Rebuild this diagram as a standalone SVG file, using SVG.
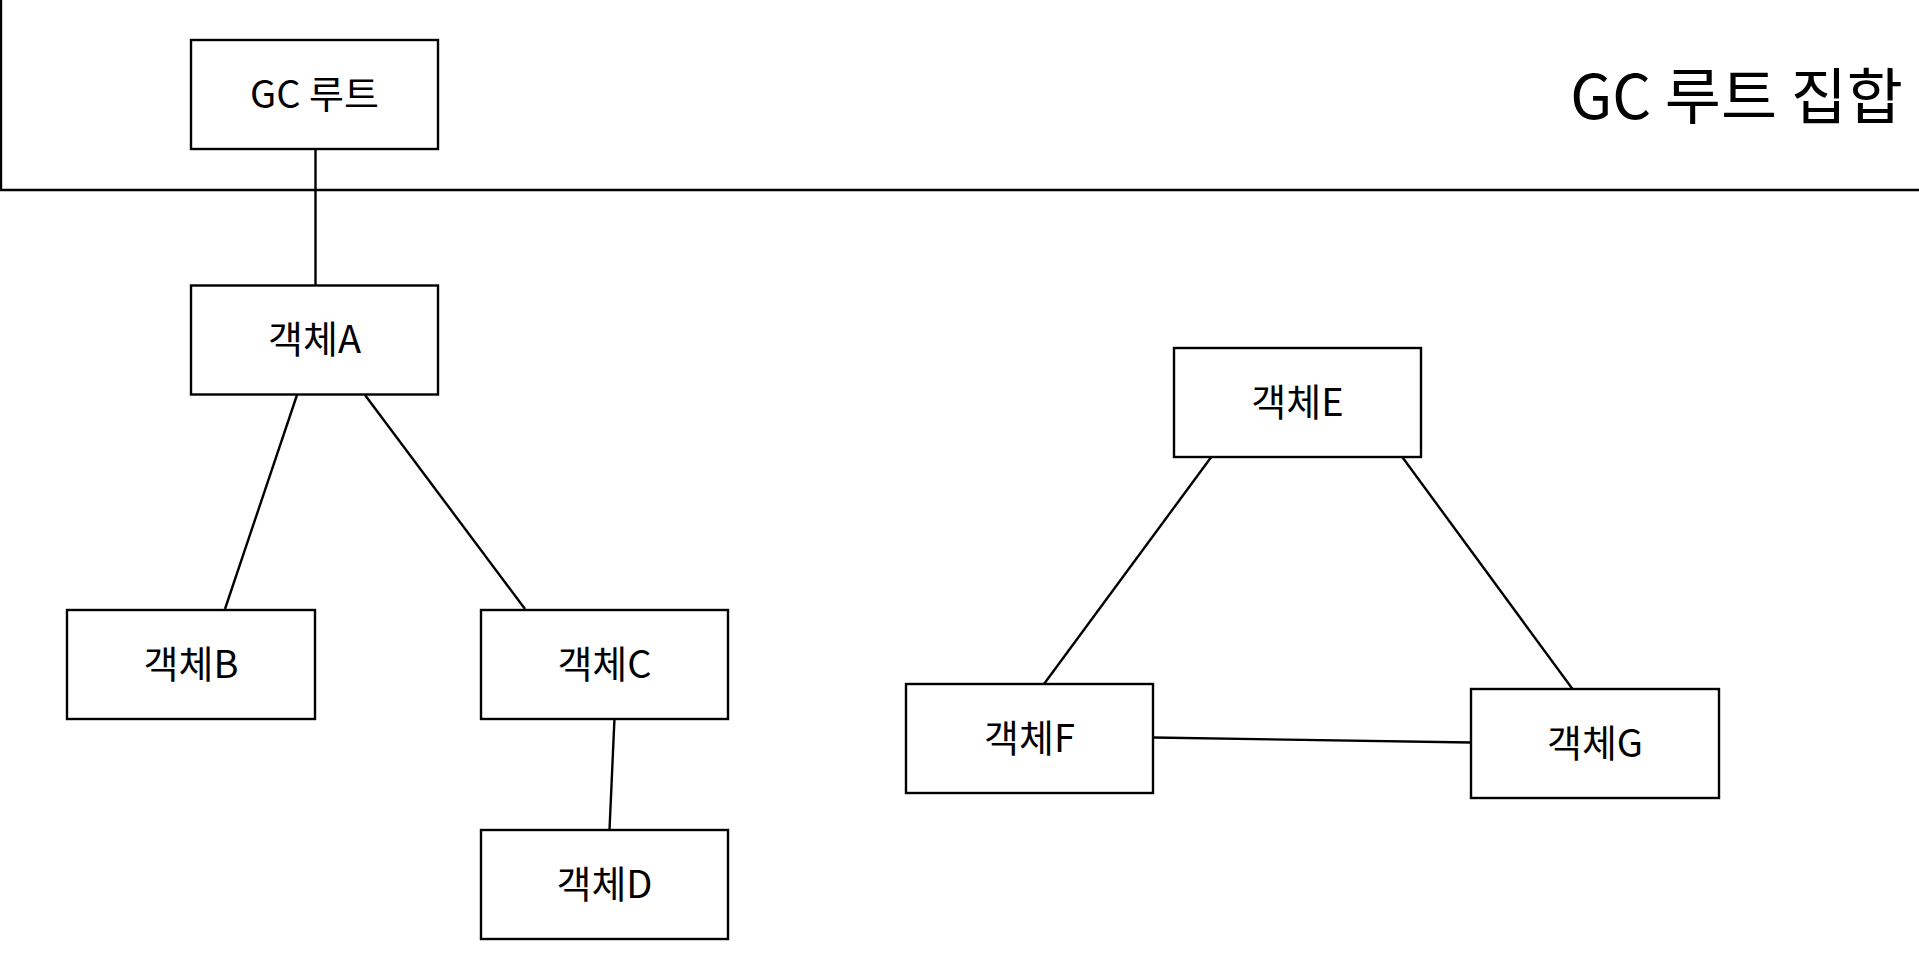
<svg xmlns="http://www.w3.org/2000/svg" width="1919" height="972" viewBox="0 0 1919 972">
<style>
.box{fill:#fff;stroke:#000;stroke-width:2.4}
.lbl{font-family:"Noto Sans CJK KR","Noto Sans",sans-serif;font-size:38px;fill:#000;text-anchor:middle}
.title{font-family:"Noto Sans CJK KR","Noto Sans",sans-serif;font-size:61px;fill:#000;text-anchor:end}
.edge{stroke:#000;stroke-width:2.4;fill:none}
</style>
<rect width="1919" height="972" fill="#fff"/>
<g id="root-set">
<path class="edge" d="M1,0 V190 H1919"/>
<text class="title" x="1903" y="119">GC 루트 집합</text>
</g>
<g id="connectors">
<line class="edge" x1="315.5" y1="149" x2="315.5" y2="285"/>
<line class="edge" x1="297" y1="395" x2="225" y2="609"/>
<line class="edge" x1="365" y1="395" x2="525" y2="609"/>
<line class="edge" x1="614.5" y1="718" x2="609.5" y2="830"/>
<line class="edge" x1="1212" y1="456" x2="1044" y2="684"/>
<line class="edge" x1="1401.5" y1="456" x2="1572.5" y2="689"/>
<line class="edge" x1="1153" y1="737.5" x2="1471" y2="742.5"/>
</g>
<g id="gc-root">
<rect class="box" x="191" y="40" width="247" height="109"/>
<text class="lbl" x="314.5" y="107.5">GC 루트</text>
</g>
<g id="objA">
<rect class="box" x="191" y="285.5" width="247" height="109"/>
<text class="lbl" x="314.5" y="353">객체A</text>
</g>
<g id="objB">
<rect class="box" x="67" y="610" width="248" height="109"/>
<text class="lbl" x="191" y="677.5">객체B</text>
</g>
<g id="objC">
<rect class="box" x="481" y="610" width="247" height="109"/>
<text class="lbl" x="604.5" y="677.5">객체C</text>
</g>
<g id="objD">
<rect class="box" x="481" y="830" width="247" height="109"/>
<text class="lbl" x="604.5" y="897.5">객체D</text>
</g>
<g id="objE">
<rect class="box" x="1174" y="348" width="247" height="109"/>
<text class="lbl" x="1297.5" y="415.5">객체E</text>
</g>
<g id="objF">
<rect class="box" x="906" y="684" width="247" height="109"/>
<text class="lbl" x="1029.5" y="751.5">객체F</text>
</g>
<g id="objG">
<rect class="box" x="1471" y="689" width="248" height="109"/>
<text class="lbl" x="1595" y="756.5">객체G</text>
</g>
</svg>
